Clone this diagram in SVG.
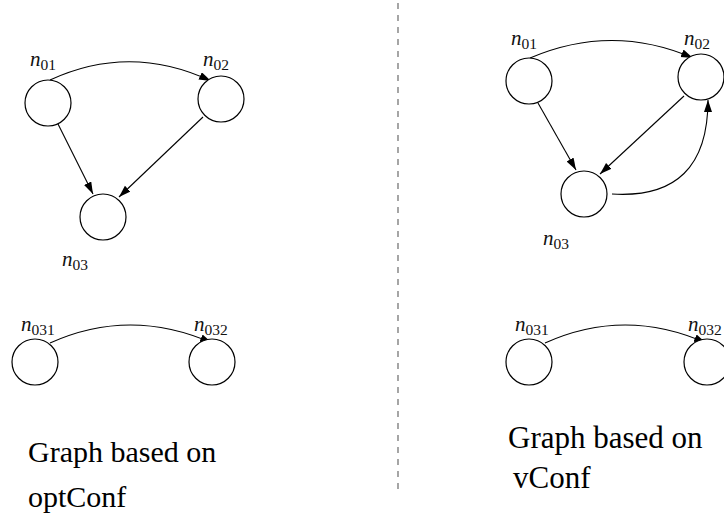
<svg xmlns="http://www.w3.org/2000/svg" width="724" height="517" viewBox="0 0 724 517">
<style>
.node{fill:#fff;stroke:#000;stroke-width:1.2}
.edge{fill:none;stroke:#000;stroke-width:1.1;marker-end:url(#arr)}
.lbl{font-family:"Liberation Serif","DejaVu Serif",serif;fill:#111}
.n{font-style:italic;font-size:21px}
.sub{font-size:15.5px}
.cap{font-family:"Liberation Serif","DejaVu Serif",serif;font-size:30px;fill:#000}
.div{stroke:#808080;stroke-width:1.4;stroke-dasharray:6 6}
</style>
<defs>
<marker id="arr" markerUnits="userSpaceOnUse" markerWidth="13" markerHeight="9" refX="12" refY="4" orient="auto">
<path d="M0,0 L12,4 L0,8 z" fill="#000"/>
</marker>
</defs>
<line class="div" x1="398" y1="3" x2="398" y2="495"/>
<g id="connectors">
<path class="edge" d="M50,80 Q130,43 211,81"/>
<path class="edge" d="M58,124 L93,194"/>
<path class="edge" d="M203,117 L119,197"/>
<path class="edge" d="M530,58 Q612,23 693,58"/>
<path class="edge" d="M538,103 L576,170"/>
<path class="edge" d="M684,96 L600,174"/>
<path class="edge" d="M612,194 Q708,200 708,100"/>
<path class="edge" d="M50,343 Q130,307 212,343"/>
<path class="edge" d="M545,343 Q625,307 706,343"/>
</g>
<g id="L_n01"><circle class="node" cx="48" cy="103" r="23"/><text class="lbl" x="30" y="66"><tspan class="n">n</tspan><tspan class="sub" dy="4">01</tspan></text></g>
<g id="L_n02"><circle class="node" cx="221" cy="99" r="23"/><text class="lbl" x="203" y="66"><tspan class="n">n</tspan><tspan class="sub" dy="4">02</tspan></text></g>
<g id="L_n03"><circle class="node" cx="103" cy="217" r="23"/><text class="lbl" x="62" y="266"><tspan class="n">n</tspan><tspan class="sub" dy="4">03</tspan></text></g>
<g id="L_n031"><circle class="node" cx="35" cy="362" r="23"/><text class="lbl" x="21" y="331"><tspan class="n">n</tspan><tspan class="sub" dy="4">031</tspan></text></g>
<g id="L_n032"><circle class="node" cx="212" cy="362" r="23"/><text class="lbl" x="194" y="331"><tspan class="n">n</tspan><tspan class="sub" dy="4">032</tspan></text></g>
<g id="R_n01"><circle class="node" cx="529" cy="81" r="23"/><text class="lbl" x="511" y="45"><tspan class="n">n</tspan><tspan class="sub" dy="4">01</tspan></text></g>
<g id="R_n02"><circle class="node" cx="701" cy="77" r="23"/><text class="lbl" x="684" y="45"><tspan class="n">n</tspan><tspan class="sub" dy="4">02</tspan></text></g>
<g id="R_n03"><circle class="node" cx="584" cy="194" r="23"/><text class="lbl" x="543" y="245"><tspan class="n">n</tspan><tspan class="sub" dy="4">03</tspan></text></g>
<g id="R_n031"><circle class="node" cx="529" cy="362" r="23"/><text class="lbl" x="515" y="331"><tspan class="n">n</tspan><tspan class="sub" dy="4">031</tspan></text></g>
<g id="R_n032"><circle class="node" cx="707" cy="362" r="23"/><text class="lbl" x="688" y="331"><tspan class="n">n</tspan><tspan class="sub" dy="4">032</tspan></text></g>
<g id="captions">
<text class="cap" x="28" y="462">Graph based on</text>
<text class="cap" x="28" y="507">optConf</text>
<text class="cap" x="508" y="448" style="font-size:31px">Graph based on</text>
<text class="cap" x="513" y="488" style="font-size:31px">vConf</text>
</g>
</svg>
